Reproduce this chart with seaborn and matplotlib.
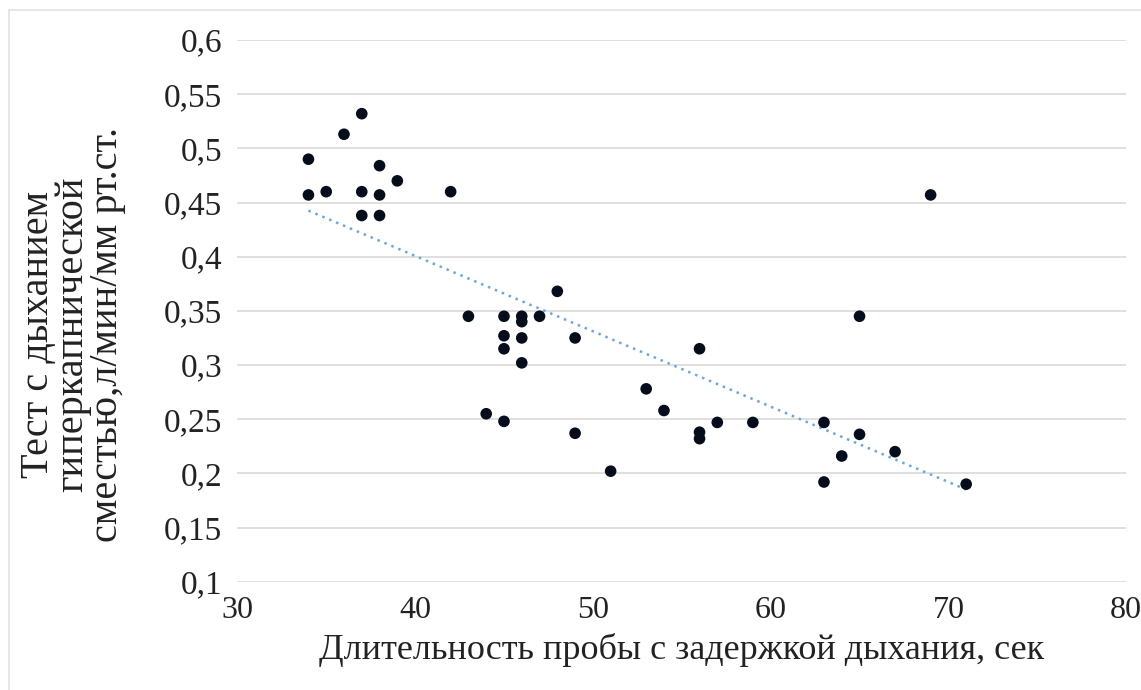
import numpy as np
import pandas as pd
import seaborn as sns
import matplotlib.pyplot as plt
from matplotlib.lines import Line2D
from matplotlib.ticker import FuncFormatter

# breath-hold duration (s) vs hypercapnic test result
duration = [34, 34, 35, 36, 37, 37, 37, 38, 38, 38, 39, 42, 43, 44, 45, 45, 45, 45,
            46, 46, 46, 46, 47, 48, 49, 49, 51, 53, 54, 56, 56, 56, 57, 59, 63, 63,
            64, 65, 65, 67, 69, 71]
response = [0.49, 0.457, 0.46, 0.513, 0.532, 0.46, 0.438, 0.484, 0.457, 0.438, 0.47,
            0.46, 0.345, 0.255, 0.345, 0.327, 0.315, 0.248, 0.345, 0.34, 0.325, 0.302,
            0.345, 0.368, 0.325, 0.237, 0.202, 0.278, 0.258, 0.315, 0.238, 0.232,
            0.247, 0.247, 0.247, 0.192, 0.216, 0.345, 0.236, 0.22, 0.457, 0.19]

x_label = "Длительность пробы с задержкой дыхания, сек"
y_label = "Тест с дыханием\nгиперкапнической\nсместью,л/мин/мм рт.ст."

df = pd.DataFrame({"x": duration, "y": response})

sns.set_style("white")
plt.rcParams["font.family"] = ["Liberation Serif", "DejaVu Serif"]

fig = plt.figure(figsize=(11.41, 6.9), dpi=100)
ax = fig.add_axes([0.208, 0.157, 0.779, 0.785])

sns.regplot(
    data=df, x="x", y="y", ax=ax, ci=None, truncate=True,
    scatter_kws={"color": "#050d1c", "s": 70, "alpha": 1, "edgecolor": "none", "zorder": 3},
    line_kws={"color": "#6fa6d8", "linestyle": (0, (1, 2)), "linewidth": 1.8, "zorder": 2},
)

ax.set_xlim(30, 80)
ax.set_ylim(0.1, 0.6)
ax.set_xticks(np.arange(30, 81, 10))
ax.set_yticks(np.arange(0.1, 0.61, 0.05))
ax.yaxis.set_major_formatter(FuncFormatter(lambda v, p: f"{v:g}".replace(".", ",")))
ax.grid(axis="y", color="#d9d9d9", linewidth=1.2)
ax.set_axisbelow(True)
for s in ax.spines.values():
    s.set_visible(False)
ax.tick_params(axis="x", length=0, labelsize=23, pad=10, colors="#222222")
ax.tick_params(axis="y", length=0, labelsize=24, pad=11, colors="#222222")
ax.set_xlabel(x_label, fontsize=26, color="#222222", labelpad=6)
ax.set_ylabel("")
fig.text(73 / 1141, 1 - 334 / 690, y_label, rotation=90, ha="center", va="center",
         multialignment="center", fontsize=29, linespacing=0.9, color="#222222")

# faint chart-area border
fig.add_artist(Line2D([9 / 1141, 9 / 1141], [0, 1 - 10 / 690], color="#e3e3e3", lw=1.2))
fig.add_artist(Line2D([9 / 1141, 1], [1 - 10 / 690, 1 - 10 / 690], color="#e3e3e3", lw=1.2))

fig.savefig("out.png", dpi=100)
